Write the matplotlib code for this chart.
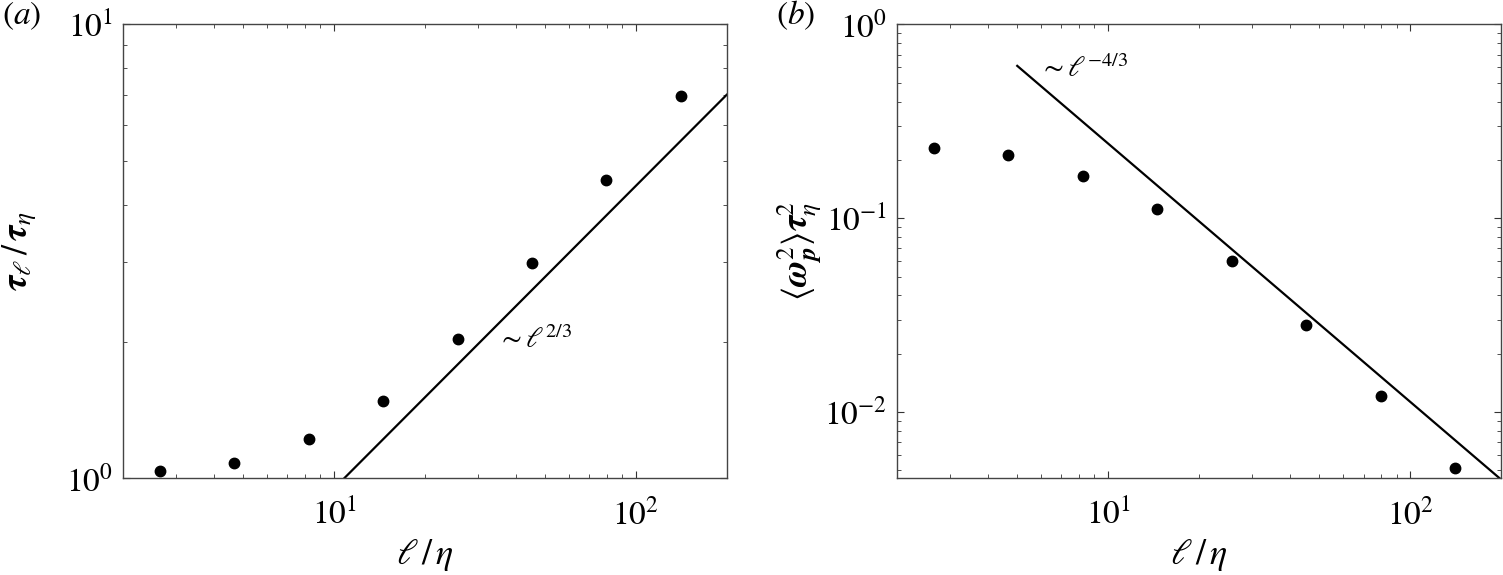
import numpy as np
import matplotlib
matplotlib.use('Agg')
import matplotlib.pyplot as plt
from matplotlib.ticker import NullFormatter

# data
l_eta = [2.65, 4.66, 8.23, 14.55, 25.7, 45.3, 79.9, 141.0]
tau_ratio = [1.038, 1.079, 1.219, 1.483, 2.026, 2.98, 4.55, 6.97]
omega_tau2 = [0.2306, 0.2122, 0.166, 0.1118, 0.0605, 0.0280, 0.01209, 0.00517]

# power-law guide lines
fit_a_x = [10.0, 200.0]
fit_a_coef = 0.2047
fit_a_exp = 2.0 / 3.0
fit_b_x = [5.0, 200.0]
fit_b_coef = 5.23
fit_b_exp = -4.0 / 3.0

plt.rcParams['font.family'] = 'STIXGeneral'
plt.rcParams['mathtext.fontset'] = 'stix'

fig = plt.figure(figsize=(15.03, 5.75), dpi=100)
axA = fig.add_axes([0.0820, 0.1682, 0.4015, 0.7892])
axB = fig.add_axes([0.5968, 0.1682, 0.4021, 0.7892])

#-----------------------------------------------------------------------------------------
def style_axes(ax):
    ax.set_xscale('log')
    ax.set_yscale('log')
    ax.set_xlim(2, 200)
    ax.tick_params(which='both', direction='in', top=True, right=True,
                   labelsize=24, colors='#333333', labelcolor='black')
    ax.tick_params(which='major', length=5, width=0.8)
    ax.tick_params(which='minor', length=3, width=0.6)
    ax.tick_params(axis='x', which='both', pad=15)
    ax.tick_params(axis='y', which='both', pad=7)
    ax.xaxis.set_minor_formatter(NullFormatter())
    ax.yaxis.set_minor_formatter(NullFormatter())
    for sp in ax.spines.values():
        sp.set_color('#444444')
        sp.set_linewidth(1.0)
    ax.set_xlabel(r'$\ell\,/\,\eta$', fontsize=26, labelpad=4)

# panel (a)
style_axes(axA)
axA.set_ylim(1, 10)
axA.plot(l_eta, tau_ratio, 'o', color='black', markersize=7.5)
xa = np.array(fit_a_x)
axA.plot(xa, fit_a_coef * xa**fit_a_exp, '-', color='black', lw=1.6)
axA.text(34.6, 2.02, r'$\sim\ell^{2/3}$', fontsize=21, va='center', ha='left')
axA.set_ylabel(r'$\mathbfit{\tau}_{\ell}\,/\,\mathbfit{\tau}_{\eta}$', fontsize=26)
axA.yaxis.set_label_coords(-0.14, 0.5)
fig.text(0.001, 0.973, r'$(a)$', fontsize=24, ha='left', va='center')

# panel (b)
style_axes(axB)
axB.set_ylim(0.00455, 1)
axB.plot(l_eta, omega_tau2, 'o', color='black', markersize=7.5)
xb = np.array(fit_b_x)
axB.plot(xb, fit_b_coef * xb**fit_b_exp, '-', color='black', lw=1.6)
axB.text(5.88, 0.591, r'$\sim\ell^{-4/3}$', fontsize=21, va='center', ha='left')
axB.set_ylabel(r'$\langle\mathbfit{\omega}_{\mathbfit{p}}^{2}\rangle\mathbfit{\tau}_{\eta}^{2}$', fontsize=26)
axB.yaxis.set_label_coords(-0.12, 0.5)
fig.text(0.516, 0.973, r'$(b)$', fontsize=24, ha='left', va='center')

fig.savefig('out.png', dpi=100)
